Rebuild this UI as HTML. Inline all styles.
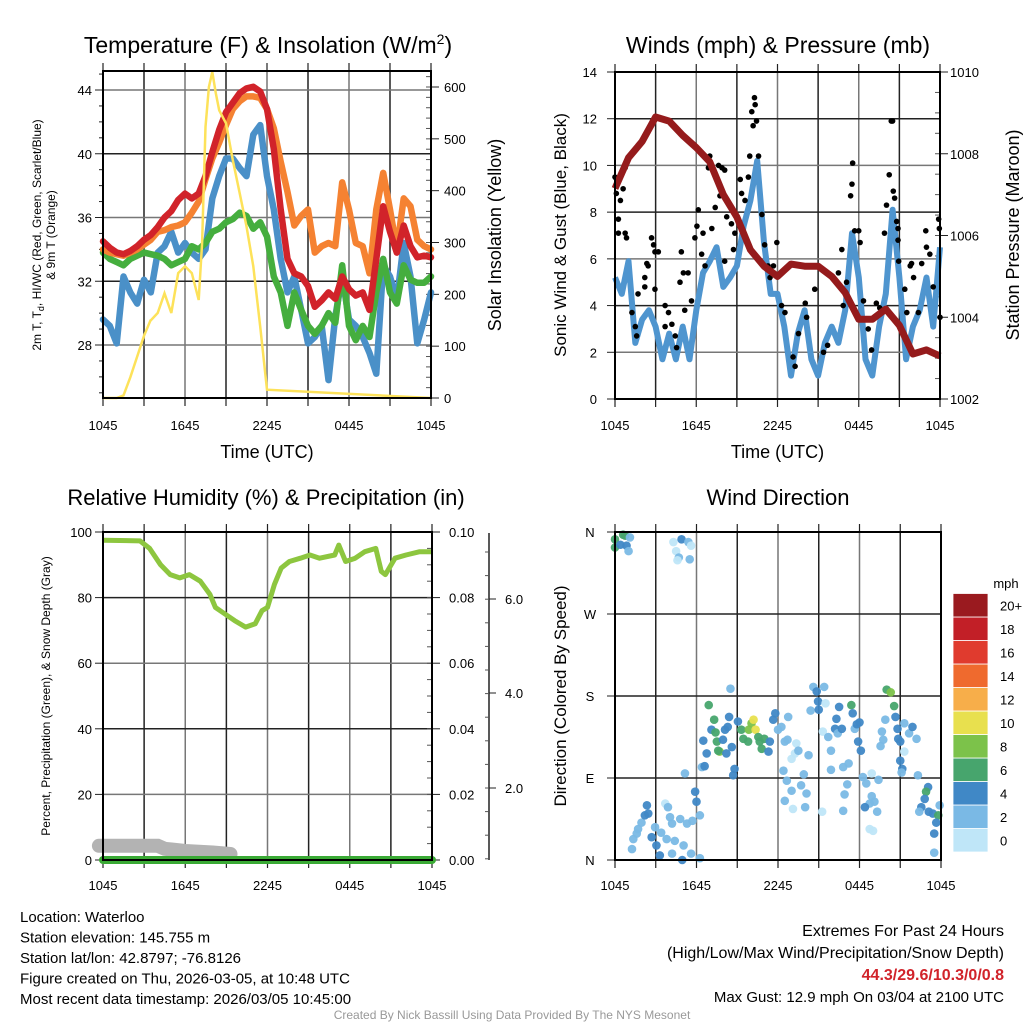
<!DOCTYPE html>
<html><head><meta charset="utf-8"><style>
html,body{margin:0;padding:0;background:#fff;}
svg{display:block;font-family:"Liberation Sans",Arial,sans-serif;}
</style></head><body>
<svg id="s" width="1024" height="1024" viewBox="0 0 1024 1024" xmlns="http://www.w3.org/2000/svg">
<g id="g"></g>
</svg>
<script>
// ---------- DATA ----------
const halfHours = Array.from({length:49},(_,i)=>i*0.5);
const tempRed = [34.5,34.1,33.8,33.7,33.9,34.2,34.6,34.9,35.4,36.0,36.4,37.1,37.5,37.2,37.5,38.6,40.1,41.5,42.6,43.2,43.8,44.1,44.2,43.9,42.8,40.3,36.5,33.4,32.5,32.3,31.7,30.4,30.8,31.3,30.9,32.3,31.5,31.1,31.3,30.2,33.4,36.7,35.1,33.8,35.5,34.2,33.5,33.6,33.5];
const tempOrange = [34.0,33.8,33.7,33.6,33.8,34.0,34.3,34.6,35.1,35.2,35.4,35.5,35.7,36.3,37.0,38.4,39.7,40.7,41.8,42.8,43.3,43.6,43.6,43.5,42.8,41.6,39.5,37.6,35.5,36.1,36.5,33.8,34.2,34.4,34.2,38.2,36.5,34.4,34.2,32.5,36.5,38.8,36.5,34.0,37.2,36.7,34.6,34.2,34.0];
const dewGreen = [33.8,33.4,33.2,33.0,33.4,33.6,33.8,33.7,33.6,33.4,33.0,33.2,33.4,34.2,34.0,34.4,35.1,35.3,35.7,35.9,36.3,36.1,35.3,35.7,34.8,32.3,31.3,29.2,31.3,30.2,29.2,28.7,29.2,30.0,29.4,33.0,29.2,28.3,29.2,28.5,31.3,33.4,31.3,30.6,33.0,32.1,31.9,31.9,32.3];
const chillBlue = [29.6,29.2,28.1,32.3,31.3,30.6,32.1,31.3,33.8,34.2,35.1,33.8,34.4,33.8,33.4,34.0,37.2,38.6,39.7,39.7,39.1,38.6,41.2,41.8,38.6,36.5,33.4,31.3,32.3,30.2,28.1,28.5,29.2,25.8,29.8,32.3,29.6,29.2,28.5,27.5,26.2,33.0,32.3,30.8,34.4,32.3,28.1,29.6,31.3];
const solarHours = [0,1,1.5,2,2.5,3,3.5,3.5,4,4.5,5,5.5,6,6.5,7,7.25,7.5,7.75,8,8.25,8.5,9,9.5,10,10.5,11,11.5,12,24];
const solarVals = [0,0,5,40,80,120,151,150,164,202,164,241,254,241,189,299,523,600,629,588,555,530,459,395,331,254,138,16,0];
const windHours = halfHours;
const windSpeed = [5.2,4.5,5.9,2.4,3.4,3.8,3.1,1.7,2.8,1.7,3.1,1.7,3.8,5.4,5.9,6.5,4.8,5.2,5.7,7.4,8.5,10.2,6.7,4.5,4.5,3.1,1.0,2.8,3.8,1.7,1.0,2.4,3.1,2.4,3.8,7.1,5.2,1.7,1.0,3.1,4.5,8.1,5.2,1.7,3.1,3.8,5.2,3.1,6.5];
const gustHours = [0,0.1,0.4,0.6,0.75,0.25,0.25,0.75,0.85,2.7,2.85,2.95,3.2,2.35,2.45,2.2,2.2,1.7,2.95,1.25,1.5,1.6,3.7,3.95,4.2,4.45,4.55,3.7,4.9,5.05,4.8,5.4,5.65,5.15,5.9,6.05,6.15,6.4,6.5,6.9,7.0,6.65,7.15,7.4,7.65,7.9,8.1,7.75,8.1,8.25,8.6,8.75,8.85,9.25,9.35,9.6,9.85,9.95,10.1,10.2,10.35,10.3,10.45,10.6,10.85,11.05,11.3,11.45,11.7,11.95,12.3,12.55,13.15,13.3,13.55,14.05,14.15,14.75,15.4,15.7,16.5,16.75,16.85,17.1,17.4,17.5,17.55,17.7,18.0,18.1,18.35,18.7,18.95,19.3,19.55,19.9,20.05,20.25,20.4,20.5,20.55,20.65,20.8,20.9,20.9,20.95,21.4,21.55,21.8,21.9,22.05,22.4,22.65,22.95,23.0,23.25,23.5,23.9,23.95,24];
const gustVals = [9.5,8.8,8.5,9.0,9.9,7.7,7.1,7.1,6.9,6.9,6.6,6.3,6.3,5.8,5.7,5.2,4.8,4.5,4.7,3.7,3.1,2.7,4.0,3.7,3.2,2.7,2.2,3.1,6.3,5.4,5.0,5.4,4.2,3.8,6.9,7.4,8.1,6.2,7.1,9.9,10.4,5.7,7.3,8.2,10.0,9.9,9.8,8.7,5.9,7.8,7.5,6.4,7.1,9.4,8.8,8.5,9.5,10.4,12.3,11.7,12.6,12.9,11.9,10.4,7.9,6.6,5.7,5.2,5.7,6.7,4.0,3.7,1.8,1.4,2.8,4.1,3.5,4.7,2.0,2.3,5.4,6.4,4.0,5.0,8.7,9.2,10.1,7.2,7.2,6.7,4.2,3.0,2.1,4.1,3.9,7.1,8.3,9.6,11.9,11.9,8.9,8.6,7.6,7.3,6.8,5.9,4.7,3.7,5.7,5.8,5.2,3.7,5.8,7.2,6.5,6.2,4.8,7.7,7.3,3.5];
const presHours = Array.from({length:25},(_,i)=>i);
const presVals = [1007.15,1007.9,1008.3,1008.9,1008.8,1008.45,1008.15,1007.8,1007.0,1006.45,1005.65,1005.25,1005.0,1005.3,1005.25,1005.25,1005.0,1004.6,1003.95,1003.95,1004.2,1003.8,1003.1,1003.2,1003.05];
const rhHours = [0,2.7,3.4,4.2,4.9,5.6,6.3,7.1,7.8,8.2,8.9,9.6,10.4,11.1,11.6,12,12.5,13.0,13.6,14.4,15.1,15.8,16.9,17.2,17.7,18.4,19.1,19.9,20.3,20.6,21.3,22.1,23.1,24];
const rhVals = [97.5,97.3,95,90,87,86,87,85,81,77,75,73,71,72,76,77,84,89,91,92,93,92,93,96,91,92,94,95,88,87,92,93,94,94];
const precipHours = [0,24];
const precipVals = [0,0];
const snowHours = [-0.3,1,2,3,4,4.5,5,6,7,8,9.3];
const snowVals = [0.95,0.95,0.95,0.95,0.95,0.75,0.7,0.6,0.55,0.5,0.4];
const dirHours = [0,0,0.6,0.75,0.4,0.85,1.1,1.0,4.3,4.9,5.4,5.6,4.5,4.7,4.6,5.5,1.25,1.35,1.6,1.7,1.95,2.2,2.35,2.45,2.7,2.95,3.05,3.3,3.4,3.7,3.8,3.9,4.05,4.2,4.2,4.4,4.8,5.05,4.95,5.3,5.6,5.7,5.9,6.0,6.25,6.25,5.15,6.4,6.6,6.5,6.75,6.9,7.3,7.1,7.4,7.5,7.7,7.6,7.95,8.1,8.4,8.3,8.2,8.6,8.8,8.7,8.5,9.05,9.3,9.45,9.8,9.85,10.05,10.2,10.35,10.55,10.65,10.8,11.0,11.3,11.4,11.65,11.8,12.0,12.25,12.5,12.75,12.7,13.0,13.25,13.35,13.5,12.4,12.65,13.0,12.5,13.1,13.7,13.9,14.1,14.0,14.25,14.4,14.6,14.85,14.95,15.0,15.4,15.5,15.3,15.7,16.2,16.4,16.3,16.5,16.7,15.9,15.9,16.8,17.2,17.1,16.9,16.8,17.4,17.5,17.65,17.8,18.0,17.9,18.1,18.25,18.5,18.9,18.75,18.9,19.1,19.3,19.4,18.4,18.75,19.0,15.25,20.0,20.3,20.55,19.9,20.65,20.8,20.85,21.0,19.65,19.75,19.55,21.0,21.15,21.1,21.3,21.3,21.65,21.9,22.2,22.3,23.05,22.9,22.8,22.55,22.4,23.1,23.4,23.8,23.9,23.65,23.5,23.5];
const dirDegs = [352,343,357,356,346,345,354,339,349,352,349,345,339,332,329,330,12,23,29,34,41,49,60,51,25,36,16,5,30,62,23,58,47,40,7,21,45,16,0,40,7,43,75,64,49,2,95,102,103,131,117,170,154,143,140,130,119,120,132,143,157,146,117,124,100,93,188,152,143,133,130,143,150,154,143,135,130,122,133,119,130,154,161,143,146,130,157,132,111,117,128,120,98,87,76,65,56,82,94,73,58,115,164,190,185,174,165,190,172,141,135,144,139,155,168,144,120,99,102,106,83,72,54,170,161,144,149,151,130,120,91,84,95,62,70,64,53,88,58,34,32,53,187,184,169,154,157,144,133,130,141,132,125,109,100,96,119,150,139,146,133,93,80,75,67,58,53,53,51,49,60,41,29,8];
const dirSpeeds = [7,7,7,7,5,5,3,3,1,5,3,1,1,3,1,3,3,3,3,3,3,5,5,5,5,3,5,5,3,1,3,3,3,3,3,3,3,3,5,3,3,3,5,5,3,3,3,3,5,5,5,7,7,5,7,7,9,7,5,5,5,5,5,5,5,5,3,5,7,7,7,9,9,11,11,7,7,7,7,5,5,5,5,3,3,3,3,3,1,1,1,3,3,3,3,3,1,3,3,3,3,3,3,3,5,5,5,3,1,1,3,5,3,5,5,5,3,3,3,3,3,3,3,7,5,3,5,5,5,5,3,3,1,3,3,3,3,3,5,1,1,1,7,9,7,3,5,5,5,5,3,3,3,5,5,3,1,3,3,5,3,3,5,7,5,5,3,5,5,7,3,5,5,3];
const speedBins = [0,2,4,6,8,10,12,14,16,18,20];
const speedColors = ["#bfe6f8","#7ab9e5","#4088c6","#47a56d","#7cc24a","#e8e04e","#f7ae4a","#ef6a2e","#e03b2e","#c21f27","#9a1a1f"];
const speedLabels = ["0","2","4","6","8","10","12","14","16","18","20+"];
const timeTickLabels = ["1045","1645","2245","0445","1045"];

// ---------- HELPERS ----------
const NS="http://www.w3.org/2000/svg";
const G=document.getElementById('g');
function el(tag,attrs,parent,text){const e=document.createElementNS(NS,tag);for(const k in attrs)e.setAttribute(k,attrs[k]);if(text!==undefined)e.textContent=text;(parent||G).appendChild(e);return e;}
function lin(d0,d1,r0,r1){return v=>r0+(v-d0)*(r1-r0)/(d1-d0);}
function poly(xs,ys,fx,fy){return xs.map((x,i)=>fx(x).toFixed(1)+","+fy(ys[i]).toFixed(1)).join(" ");}
function frame(x0,y0,x1,y1,name){
  const g=el('g',{});
  
  
  for(let h=3;h<24;h+=3){const x=lin(0,24,x0,x1)(h);el('line',{x1:x,y1:y0,x2:x,y2:y1,stroke:(h%6? "#222":"#777"),'stroke-width':1.5},g);}
  for(let h=0;h<=24;h+=3){const x=lin(0,24,x0,x1)(h);el('line',{x1:x,y1:y0-8,x2:x,y2:y0,stroke:"#222",'stroke-width':1.2},g);el('line',{x1:x,y1:y1,x2:x,y2:y1+8,stroke:"#222",'stroke-width':1.2},g);}
  return g;
}
function border(x0,y0,x1,y1,name){const r=el('rect',{x:x0,y:y0,width:x1-x0,height:y1-y0,fill:'none',stroke:'#000','stroke-width':2});}
function hline(y,x0,x1,c){el('line',{x1:x0,y1:y,x2:x1,y2:y,stroke:c||"#222",'stroke-width':1.5});}
function text(x,y,s,opts,name){const t=el('text',Object.assign({x:x,y:y,'font-size':13,fill:'#000'},opts||{}),G,s);return t;}
function xTicks(x0,x1,y,title,ty,name){const fx=lin(0,24,x0,x1);timeTickLabels.forEach((l,i)=>{const t=text(fx(i*6),y,l,{'text-anchor':'middle','font-size':13},'x-tick-label');});if(title)text((x0+x1)/2,ty,title,{'text-anchor':'middle','font-size':18},name+'-x-axis-title');}

// ---------- PANEL 1 ----------
(function(){
 const x0=103,x1=431,y0=71,y1=398;
 const fx=lin(0,24,x0,x1), fy=lin(28,44,345,90), fs=lin(0,600,398,87);
 frame(x0,y0,x1,y1,'temp');
 [28,32,36,40,44].forEach(v=>{hline(fy(v),x0,x1,v%8?"#777":"#222");const t=text(92,fy(v)+5,String(v),{'text-anchor':'end'},'temp-y-tick-label');});
 for(let v=25;v<=45;v++){el('line',{x1:x0-(v%4?4:8),y1:fy(v),x2:x0,y2:fy(v),stroke:'#222'});}
 for(let v=0;v<=600;v+=100){el('line',{x1:x1,y1:fs(v),x2:x1+8,y2:fs(v),stroke:'#222'});text(444,fs(v)+5,String(v),{},'solar-y-tick-label');}
 for(let v=0;v<=620;v+=20){el('line',{x1:x1-5,y1:fs(v),x2:x1,y2:fs(v),stroke:'#555'});}
 const series=[[chillBlue,"#4a90c8",'chill-line'],[dewGreen,"#45ae3e",'dewpoint-line'],[tempOrange,"#f58232",'temp-9m-line'],[tempRed,"#d1232a",'temp-2m-line']];
 series.forEach(s=>{const p=el('polyline',{points:poly(halfHours,s[0],fx,fy),fill:'none',stroke:s[1],'stroke-width':6.5,'stroke-linejoin':'round','stroke-linecap':'round'});});
 const sp=el('polyline',{points:poly(solarHours,solarVals,fx,fs),fill:'none',stroke:'#fde25a','stroke-width':2.5});
 
 border(x0,y0,x1,y1,'temp');
 xTicks(x0,x1,430,'Time (UTC)',458,'temp');
 const t=text(268,53,'',{'text-anchor':'middle','font-size':23},'temp-title');
 t.innerHTML='Temperature (F) &amp; Insolation (W/m<tspan dy="-9" font-size="14">2</tspan><tspan dy="9">)</tspan>';
 text(0,0,'Solar Insolation (Yellow)',{'text-anchor':'middle','font-size':18,transform:'translate(501,235) rotate(-90)'},'solar-y-axis-title');
 const a=text(0,0,'',{'text-anchor':'middle','font-size':12,transform:'translate(41,235) rotate(-90)'},'temp-y-axis-title');
 a.innerHTML='2m T, T<tspan dy="3" font-size="9">d</tspan><tspan dy="-3">, HI/WC (Red, Green, Scarlet/Blue)</tspan>';
 text(0,0,'& 9m T (Orange)',{'text-anchor':'middle','font-size':12,transform:'translate(55,235) rotate(-90)'},'temp-y-axis-title-2');
})();

// ---------- PANEL 2 ----------
(function(){
 const x0=615,x1=940,y0=72,y1=399;
 const fx=lin(0,24,x0,x1), fy=lin(0,14,y1,y0), fp=lin(1002,1010,y1,y0);
 frame(x0,y0,x1,y1,'wind');
 for(let v=2;v<14;v+=2)hline(fy(v),x0,x1,v%4?"#777":"#222");
 for(let v=0;v<=14;v+=2){el('line',{x1:x0-8,y1:fy(v),x2:x0,y2:fy(v),stroke:'#222'});text(597,fy(v)+5,String(v),{'text-anchor':'end'},'wind-y-tick-label');}
 for(let v=1002;v<=1010;v+=2){el('line',{x1:x1,y1:fp(v),x2:x1+8,y2:fp(v),stroke:'#222'});text(950,fp(v)+5,String(v),{},'pressure-y-tick-label');}
 for(let v=1002;v<=1010;v+=0.5){el('line',{x1:x1-5,y1:fp(v),x2:x1,y2:fp(v),stroke:'#555'});}
 const wl=el('polyline',{points:poly(windHours,windSpeed,fx,fy),fill:'none',stroke:'#4f95cf','stroke-width':6,'stroke-linejoin':'round'});
 
 const gg=el('g',{});
 gustHours.forEach((h,i)=>{const c=el('circle',{cx:fx(h),cy:fy(gustVals[i]),r:2.8,fill:'#000'},gg);});
 const pl=el('polyline',{points:poly(presHours,presVals,fx,fp),fill:'none',stroke:'#951b1c','stroke-width':7,'stroke-linejoin':'round'});
 
 border(x0,y0,x1,y1,'wind');
 xTicks(x0,x1,430,'Time (UTC)',458,'wind');
 text(778,53,'Winds (mph) & Pressure (mb)',{'text-anchor':'middle','font-size':23},'wind-title');
 text(0,0,'Sonic Wind & Gust (Blue, Black)',{'text-anchor':'middle','font-size':17,transform:'translate(566,235) rotate(-90)'},'wind-y-axis-title');
 text(0,0,'Station Pressure (Maroon)',{'text-anchor':'middle','font-size':18,transform:'translate(1019,235) rotate(-90)'},'pressure-y-axis-title');
})();

// ---------- PANEL 3 ----------
(function(){
 const x0=103,x1=432,y0=532,y1=860;
 const fx=lin(0,24,x0,x1), fy=lin(0,100,y1,y0), fpr=lin(0,0.1,y1,y0), fsn=lin(0,1,y1,y1-15);
 frame(x0,y0,x1,y1,'rh');
 for(let v=20;v<100;v+=20)hline(fy(v),x0,x1,v%40?"#777":"#222");
 for(let v=0;v<=100;v+=20){el('line',{x1:x0-8,y1:fy(v),x2:x0,y2:fy(v),stroke:'#222'});text(92,fy(v)+5,String(v),{'text-anchor':'end'},'rh-y-tick-label');}
 for(let v=0;v<=0.1001;v+=0.02){el('line',{x1:x1,y1:fpr(v),x2:x1+8,y2:fpr(v),stroke:'#222'});text(449,fpr(v)+5,v.toFixed(2),{},'precip-y-tick-label');}
 for(let v=0;v<=0.1;v+=0.005){el('line',{x1:x1-5,y1:fpr(v),x2:x1,y2:fpr(v),stroke:'#555'});}
 el('line',{x1:489,y1:533,x2:489,y2:860,stroke:'#222','stroke-width':1.5});
 [[788,'2.0'],[693,'4.0'],[599,'6.0']].forEach(p=>{el('line',{x1:489,y1:p[0],x2:496,y2:p[0],stroke:'#222'});text(505,p[0]+5,p[1],{},'snow-y-tick-label');});
 for(let y=552;y<860;y+=23.6){el('line',{x1:485,y1:y,x2:489,y2:y,stroke:'#555'});}
 const sn=el('polyline',{points:poly(snowHours,snowVals,fx,fsn),fill:'none',stroke:'#b3b3b3','stroke-width':14,'stroke-linecap':'round'});
 
 const pr=el('polyline',{points:poly(precipHours,precipVals,fx,fpr),fill:'none',stroke:'#3aaa35','stroke-width':8,'stroke-linecap':'round'});
 
 const rl=el('polyline',{points:poly(rhHours,rhVals,fx,fy),fill:'none',stroke:'#8dc63f','stroke-width':5,'stroke-linejoin':'round'});
 
 border(x0,y0,x1,y1,'rh');
 xTicks(x0,x1,890,null,0,'rh');
 text(266,505,'Relative Humidity (%) & Precipitation (in)',{'text-anchor':'middle','font-size':22},'rh-title');
 text(0,0,'Percent, Precipitation (Green), & Snow Depth (Gray)',{'text-anchor':'middle','font-size':12,transform:'translate(50,696) rotate(-90)'},'rh-y-axis-title');
})();

// ---------- PANEL 4 ----------
(function(){
 const x0=615,x1=941,y0=532,y1=860;
 const fx=lin(0,24,x0,x1), fy=lin(0,360,y1,y0);
 frame(x0,y0,x1,y1,'dir');
 [90,180,270].forEach(v=>hline(fy(v),x0,x1,"#222"));
 [['N',0],['E',90],['S',180],['W',270],['N',360]].forEach(p=>{el('line',{x1:x0-8,y1:fy(p[1]),x2:x0,y2:fy(p[1]),stroke:'#222'});text(590,fy(p[1])+5,p[0],{'text-anchor':'middle'},'dir-y-tick-label');});
 const gg=el('g',{});
 dirHours.forEach((h,i)=>{let b=0;speedBins.forEach((s,j)=>{if(dirSpeeds[i]>=s)b=j;});el('circle',{cx:fx(h),cy:fy(dirDegs[i]),r:4.3,fill:speedColors[b],'fill-opacity':0.95},gg);});
 border(x0,y0,x1,y1,'dir');
 xTicks(x0,x1,890,null,0,'dir');
 text(778,505,'Wind Direction',{'text-anchor':'middle','font-size':22},'dir-title');
 text(0,0,'Direction (Colored By Speed)',{'text-anchor':'middle','font-size':17,transform:'translate(566,696) rotate(-90)'},'dir-y-axis-title');
 const cb=el('g',{});
 const h=23.5, yb=852;
 speedColors.forEach((c,i)=>{el('rect',{x:953,y:yb-(i+1)*h,width:35,height:h,fill:c,stroke:'#fff','stroke-width':0.8},cb);text(1000,yb-i*h-h/2+5,speedLabels[i],{'font-size':13},'colorbar-label');});
 text(1006,588,'mph',{'text-anchor':'middle','font-size':13},'colorbar-title');
})();

// ---------- FOOTER ----------
['Location: Waterloo','Station elevation: 145.755 m','Station lat/lon: 42.8797; -76.8126','Figure created on Thu, 2026-03-05, at 10:48 UTC','Most recent data timestamp: 2026/03/05 10:45:00'].forEach((s,i)=>text(20,922+i*20.5,s,{'font-size':15},'station-info-line'));
text(1004,936,'Extremes For Past 24 Hours',{'text-anchor':'end','font-size':16},'extremes-title');
text(1004,958,'(High/Low/Max Wind/Precipitation/Snow Depth)',{'text-anchor':'end','font-size':16},'extremes-subtitle');
text(1004,980,'44.3/29.6/10.3/0/0.8',{'text-anchor':'end','font-size':16,'font-weight':'bold',fill:'#d1232a'},'extremes-values');
text(1004,1002,'Max Gust: 12.9 mph On 03/04 at 2100 UTC',{'text-anchor':'end','font-size':15},'max-gust');
text(512,1019,'Created By Nick Bassill Using Data Provided By The NYS Mesonet',{'text-anchor':'middle','font-size':12,fill:'#999'},'credit');
</script>
</body></html>
